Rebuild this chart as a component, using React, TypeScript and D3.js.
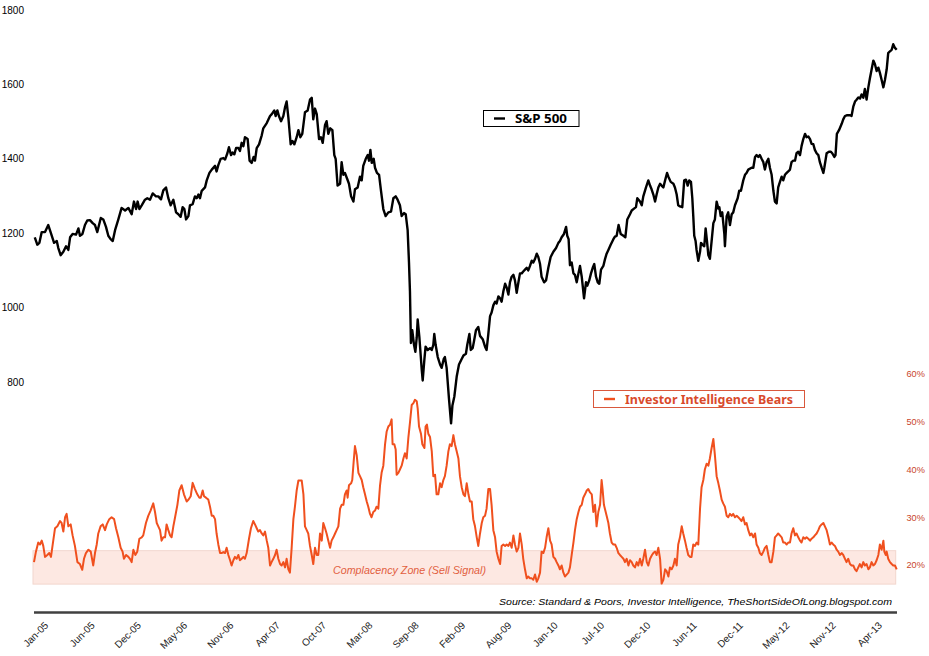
import React from "react";
import * as d3 from "d3";

// S&P 500 weekly closes: [week since Jan-05, index level]
const spx: [number, number][] = [
[0.4,1189],[1.7,1169],[2.8,1174],[4.0,1203],[5.7,1203],[7.4,1222],[8.6,1203],[10.4,1174],[11.8,1179],[12.6,1160],[13.8,1141],[15.2,1150],[16.6,1165],[17.8,1155],[18.7,1189],[20.0,1198],[21.8,1196],[23.0,1213],[23.8,1193],[25.1,1198],[26.4,1222],[27.6,1234],[29.0,1235],[30.4,1227],[31.6,1222],[32.8,1203],[34.6,1241],[35.9,1237],[37.3,1217],[38.5,1193],[39.7,1184],[40.8,1179],[42.0,1208],[43.7,1237],[45.4,1268],[47.2,1261],[48.9,1268],[50.6,1251],[51.8,1285],[52.9,1265],[53.7,1285],[54.6,1265],[55.8,1275],[57.5,1290],[58.7,1294],[60.1,1290],[61.5,1307],[63.2,1299],[64.4,1299],[65.8,1291],[67.0,1315],[68.4,1323],[69.6,1294],[70.8,1275],[72.2,1290],[73.6,1256],[74.8,1251],[76.0,1244],[77.0,1270],[77.9,1265],[78.8,1237],[80.0,1246],[80.8,1275],[82.2,1278],[83.4,1299],[84.3,1294],[85.2,1304],[86.0,1294],[86.9,1314],[88.6,1323],[89.5,1342],[90.9,1362],[92.1,1371],[93.8,1381],[94.6,1366],[95.5,1383],[96.7,1400],[98.1,1402],[99.0,1398],[100.2,1415],[101.0,1431],[102.1,1410],[102.9,1417],[103.8,1412],[104.7,1429],[105.9,1429],[106.7,1421],[107.6,1443],[108.5,1434],
[109.3,1458],[110.7,1453],[111.7,1395],[112.8,1389],[113.8,1405],[114.5,1395],[115.4,1429],[116.6,1439],[118.0,1463],[118.8,1482],[120.6,1496],[122.3,1515],[123.2,1520],[124.5,1530],[125.2,1515],[126.1,1530],[126.9,1515],[128.0,1501],[129.2,1515],[130.1,1539],[130.9,1554],[131.8,1511],[133.0,1439],[133.9,1448],[134.9,1439],[136.1,1458],[137.0,1477],[138.0,1458],[139.0,1467],[140.4,1525],[141.8,1530],[143.0,1559],[143.9,1564],[144.7,1506],[145.6,1535],[146.5,1520],[147.7,1453],[148.7,1458],[149.6,1443],[150.8,1491],[151.6,1501],[152.5,1467],[153.5,1482],[154.6,1477],[155.6,1410],[156.3,1400],[157.3,1328],[158.6,1333],[159.4,1391],[160.3,1357],[161.1,1362],[162.2,1347],[163.2,1333],[164.3,1299],[165.5,1285],[166.3,1318],[167.7,1323],[168.9,1352],[169.8,1342],[170.6,1381],[171.9,1400],[172.9,1410],[173.6,1395],[174.3,1424],[175.0,1389],[176.0,1400],[176.7,1376],[177.7,1362],[178.8,1357],[179.8,1314],[181.0,1265],[182.2,1246],[183.6,1256],[185.0,1258],[186.2,1294],[187.4,1299],[188.4,1290],[189.6,1275],[190.5,1246],[191.7,1254],[192.6,1251],[193.6,1208],[194.3,1121],[194.8,1044],[195.3,905],[196.0,939],[196.9,900],[197.6,881],[198.3,919],[198.8,968],[199.7,919],[200.9,833],[201.4,804],[202.3,862],[202.9,895],[204.0,886],[205.2,891],[206.1,886],[206.9,900],[207.4,929],[208.1,900],[209.2,867],[210.4,847],[211.2,838],[212.3,862],[212.9,867],[213.8,838],[215.0,756],[216.1,689],[216.8,737],[217.8,761],[219.0,814],[220.2,847],
[221.6,862],[222.5,871],[223.8,876],[224.5,900],[225.6,929],[226.3,886],[227.3,891],[228.0,910],[229.0,939],[230.2,948],[231.1,924],[232.5,915],[233.7,895],[234.5,886],[235.4,929],[236.3,977],[237.1,987],[238.0,1006],[238.9,1016],[239.7,1011],[240.6,1030],[241.5,1025],[242.3,1016],[243.2,1044],[244.1,1064],[244.9,1054],[245.8,1035],[246.6,1068],[247.5,1083],[248.4,1088],[249.2,1073],[250.1,1040],[251.0,1068],[251.8,1092],[252.7,1092],[253.5,1097],[254.4,1102],[255.3,1107],[256.1,1100],[257.0,1112],[257.9,1126],[258.7,1121],[259.6,1131],[260.5,1145],[261.3,1136],[262.2,1117],[263.0,1083],[264.3,1068],[265.3,1073],[266.5,1107],[267.7,1136],[269.1,1150],[270.5,1160],[271.7,1174],[272.5,1179],[273.4,1189],[274.6,1198],[275.7,1217],[276.3,1193],[277.0,1184],[277.7,1114],[278.6,1121],[279.5,1092],[280.3,1088],[281.2,1068],[282.1,1092],[282.9,1112],[283.8,1083],[285.0,1025],[286.0,1068],[286.7,1059],[287.7,1073],[288.6,1092],[289.5,1107],[290.3,1117],[291.2,1083],[292.1,1068],[292.9,1064],[293.8,1102],[295.0,1112],[295.9,1131],[296.7,1145],[297.6,1155],[298.8,1169],[300.2,1184],[301.0,1191],[301.9,1193],[302.9,1222],[304.0,1198],[305.4,1193],[306.4,1189],[307.4,1237],[308.8,1251],[309.7,1261],[310.9,1266],[311.9,1270],[312.6,1294],[314.0,1285],[314.9,1275],[315.7,1299],[317.1,1323],[318.3,1342],[319.2,1328],[320.0,1318],[320.9,1304],[321.8,1285],[322.6,1304],[323.5,1323],[324.4,1333],[325.2,1328],[326.1,1323],[327.0,1342],[328.0,1362],[328.7,1352],[329.9,1338],[331.3,1333],[332.1,1323],
[333.0,1304],[333.8,1275],[334.7,1272],[335.9,1270],[336.9,1342],[337.8,1344],[338.7,1328],[339.5,1342],[340.4,1338],[341.1,1294],[341.6,1246],[342.1,1193],[342.8,1179],[343.3,1155],[344.2,1126],[345.1,1150],[345.6,1174],[346.4,1169],[347.3,1165],[348.0,1213],[348.7,1179],[349.4,1141],[350.2,1131],[351.1,1179],[352.0,1227],[352.8,1237],[353.7,1285],[354.6,1266],[355.1,1270],[355.8,1246],[356.6,1256],[357.7,1198],[358.0,1165],[358.9,1246],[359.7,1256],[360.6,1222],[361.5,1251],[362.3,1256],[363.2,1275],[364.6,1294],[365.4,1314],[366.3,1314],[367.5,1342],[368.4,1357],[369.2,1362],[370.1,1371],[371.8,1376],[372.7,1376],[373.6,1405],[374.4,1410],[375.3,1405],[376.1,1410],[377.0,1400],[377.9,1391],[378.7,1371],[379.6,1391],[380.5,1400],[381.3,1376],[382.2,1357],[383.1,1314],[383.9,1285],[384.8,1280],[385.6,1323],[386.5,1338],[387.4,1352],[388.2,1342],[389.1,1357],[390.0,1362],[390.8,1366],[391.7,1371],[392.5,1391],[393.4,1395],[394.3,1395],[395.1,1415],[396.0,1419],[396.9,1410],[397.7,1434],[398.6,1453],[399.5,1467],[400.3,1458],[401.2,1460],[402.1,1453],[402.9,1440],[403.8,1439],[404.6,1424],[405.5,1415],[406.4,1410],[407.2,1391],[408.1,1376],[409.0,1362],[409.5,1376],[410.7,1415],[411.9,1419],[412.9,1419],[413.6,1415],[414.7,1405],[415.3,1410],[416.0,1467],[417.1,1477],[418.5,1494],[419.3,1506],[420.2,1515],[421.1,1517],[422.8,1517],[423.6,1515],[424.5,1540],[425.4,1554],[426.2,1559],[427.1,1565],[428.0,1562],[428.8,1573],[429.7,1564],[430.5,1588],[431.4,1559],[432.3,1592],[433.1,1616],[434.0,1640],[434.9,1664],[435.7,1655],[436.6,1636],[437.5,1645],[438.3,1631],[439.2,1612],[440.1,1592],[440.9,1612],[441.8,1640],[442.6,1684],[443.5,1689],[444.4,1693],[445.2,1708],[446.1,1698],[447.0,1693]
];

// Investor Intelligence bears (%): [week since Jan-05, percent]
const bears: [number, number][] = [
[0.0,20.6],[1.0,22.8],[2.2,24.7],[3.1,24.3],[4.0,25.1],[4.8,24.0],[5.7,21.7],[6.9,22.1],[7.9,22.5],[8.8,21.7],[9.7,24.3],[10.9,27.7],[12.1,28.1],[13.5,29.2],[14.3,28.8],[15.2,27.0],[16.1,30.0],[16.9,30.7],[17.8,28.1],[19.0,28.5],[20.0,26.2],[21.2,24.0],[22.5,20.6],[23.8,20.2],[25.0,19.0],[25.9,21.3],[26.9,22.5],[28.2,23.2],[29.4,22.8],[30.7,19.9],[31.6,22.5],[32.5,24.3],[33.3,26.6],[34.5,28.1],[35.6,28.5],[36.8,27.3],[37.7,28.5],[39.0,29.6],[40.2,30.0],[41.5,29.6],[42.5,27.7],[43.7,25.8],[44.9,23.6],[45.9,22.8],[46.6,21.3],[47.7,22.1],[48.9,21.7],[49.7,21.3],[50.6,20.6],[51.5,23.2],[52.5,22.1],[53.5,22.8],[54.6,25.5],[55.8,25.8],[56.6,26.2],[58.0,28.8],[59.2,30.3],[60.4,31.4],[61.8,32.9],[62.7,31.1],[63.6,28.8],[64.4,28.1],[65.3,27.3],[66.1,25.1],[67.0,25.8],[67.9,25.8],[68.7,28.5],[69.6,27.3],[70.5,26.2],[71.3,25.8],[72.2,28.1],[73.1,30.0],[74.3,32.6],[75.3,35.6],[76.5,36.7],[77.7,34.8],[79.1,33.3],[80.1,33.7],[81.2,34.4],[82.2,37.2],[83.4,35.9],[84.6,34.8],[85.7,34.1],[86.4,34.1],[87.4,35.6],[88.1,34.4],[89.1,34.1],[90.3,33.7],[91.2,32.2],[92.1,30.3],[92.9,30.3],[93.8,29.6],[94.6,26.6],[95.5,24.3],[96.4,22.5],[97.2,22.5],[98.1,22.7],[99.0,22.5],[99.8,23.6],[100.7,22.1],[101.6,21.0],[102.4,19.9],[103.3,21.0],[104.1,21.7],[105.0,21.3],[105.9,22.1],[106.7,21.0],[107.6,21.3],[108.5,21.7],
[109.3,21.3],[110.2,22.5],[111.4,25.5],[112.4,27.7],[113.6,29.2],[114.5,28.5],[115.4,27.7],[116.2,27.0],[117.1,27.3],[118.0,26.6],[118.8,26.2],[119.7,27.0],[120.6,25.1],[121.4,23.6],[122.3,19.9],[123.1,20.6],[124.0,21.3],[124.9,22.1],[125.7,23.2],[126.6,21.3],[127.5,20.2],[128.3,19.9],[129.2,20.6],[130.1,19.5],[130.9,21.3],[131.8,19.1],[132.6,18.4],[133.5,23.6],[134.4,29.6],[135.2,32.2],[136.1,35.6],[137.0,37.7],[138.7,37.7],[139.6,34.8],[140.4,28.1],[141.3,27.3],[142.1,26.6],[143.0,24.0],[143.9,22.1],[144.7,20.2],[145.6,23.6],[146.5,22.1],[147.3,22.1],[148.2,26.6],[149.1,25.1],[149.9,28.8],[150.8,27.7],[151.6,26.6],[152.5,25.1],[153.4,23.6],[154.2,25.1],[155.1,25.8],[156.0,26.6],[156.8,27.3],[157.7,28.1],[158.6,31.8],[159.4,32.6],[160.3,32.6],[161.1,34.8],[162.0,35.6],[162.5,34.1],[163.2,36.7],[164.3,37.1],[164.9,37.8],[165.6,41.5],[166.3,44.9],[167.2,43.0],[168.1,39.3],[168.9,38.6],[169.8,37.8],[170.6,36.3],[171.5,34.8],[172.4,33.3],[173.2,32.2],[174.1,30.7],[174.9,30.0],[175.8,31.1],[176.7,31.4],[177.5,32.2],[178.4,31.8],[179.3,36.7],[180.1,39.3],[181.0,40.8],[181.9,45.3],[182.7,47.9],[183.6,49.0],[184.5,49.4],[185.3,50.5],[185.8,45.3],[186.7,45.3],[187.4,44.2],[187.9,38.9],[188.8,39.3],[189.6,40.0],[190.5,40.8],[191.4,42.3],[192.2,43.4],[193.1,42.3],[194.0,46.8],[194.8,49.8],[195.7,53.5],[196.6,53.9],[197.4,54.6],[198.3,54.3],[198.8,52.8],[199.5,49.0],[200.5,47.5],[201.2,45.3],[202.3,44.5],[202.9,49.0],[203.6,49.4],[204.3,47.5],[205.2,46.8],[206.1,43.8],[206.9,38.6],[207.8,38.9],[208.6,34.8],[209.5,34.8],[210.4,37.1],[211.2,36.3],[212.1,37.8],[212.9,38.6],[213.8,40.8],[214.7,43.8],[215.5,45.3],[216.4,44.9],[217.3,47.2],[218.1,45.3],[219.0,43.8],[219.9,42.3],
[220.7,38.6],[221.6,36.3],[222.5,34.8],[223.3,34.4],[224.2,37.1],[225.1,34.8],[225.9,33.3],[226.8,33.3],[227.6,29.6],[228.5,28.1],[229.4,25.8],[230.2,24.0],[231.1,26.6],[232.0,28.8],[232.8,30.0],[233.7,30.3],[234.5,31.8],[235.4,35.9],[236.3,35.9],[237.1,32.6],[238.0,27.3],[238.9,25.8],[239.7,22.8],[240.6,21.3],[241.5,20.2],[242.3,24.0],[243.2,24.3],[244.1,24.0],[244.9,24.3],[245.8,24.0],[246.6,24.7],[247.5,23.6],[248.4,26.2],[249.2,24.3],[250.1,22.8],[251.0,23.6],[251.8,26.6],[252.7,24.3],[253.5,21.3],[254.4,19.1],[255.3,17.2],[256.1,17.6],[257.0,17.2],[257.9,17.2],[258.7,16.9],[259.6,18.0],[260.5,16.5],[261.3,17.2],[262.2,18.4],[263.0,22.8],[263.9,22.5],[264.8,23.6],[265.6,25.8],[266.5,27.7],[267.4,25.1],[268.2,24.3],[269.1,21.7],[270.0,21.3],[270.8,20.6],[271.7,19.9],[272.5,19.1],[273.4,19.9],[274.3,18.4],[275.1,17.6],[276.0,18.0],[276.9,18.4],[277.7,19.5],[278.6,22.1],[279.5,24.7],[280.3,27.3],[281.2,29.6],[282.1,31.1],[282.9,32.2],[283.8,32.6],[284.6,34.1],[285.5,34.8],[286.4,35.6],[287.2,35.9],[288.1,35.2],[289.0,34.8],[289.8,31.1],[290.7,32.6],[291.5,28.1],[292.4,31.1],[293.3,32.6],[294.1,37.8],[294.6,35.9],[295.3,32.6],[296.7,30.3],[297.6,28.8],[298.4,26.6],[299.3,24.7],[300.2,24.3],[301.1,24.3],[301.9,23.6],[302.8,22.5],[303.6,22.1],[304.5,21.7],[305.4,21.3],[306.2,20.6],[307.1,21.3],[308.0,19.9],[308.8,21.0],[309.7,20.6],[310.5,19.9],[311.4,19.5],[312.3,20.6],[313.1,19.9],[314.0,21.3],[314.9,19.9],[315.7,21.3],[316.6,23.2],[317.5,20.6],[318.3,19.9],[319.2,21.3],[320.2,22.1],[320.9,22.5],[321.8,22.8],[322.6,22.1],[323.5,23.6],[324.4,21.3],[325.2,16.1],[326.1,16.9],[327.0,19.1],[327.8,18.7],[328.7,17.6],[329.5,19.5],[330.4,19.1],[331.3,19.9],[332.1,21.3],
[333.0,19.9],[333.8,24.3],[334.7,25.8],[335.6,28.1],[336.4,26.6],[337.3,25.1],[338.1,23.6],[339.0,22.1],[339.9,21.7],[340.7,21.7],[341.6,24.3],[342.5,24.0],[343.3,24.7],[344.2,24.3],[345.1,31.8],[345.9,36.3],[346.8,37.8],[347.6,40.0],[348.5,41.2],[349.4,40.8],[350.2,42.3],[351.1,44.5],[352.0,46.4],[352.8,43.0],[353.7,38.6],[354.6,37.1],[355.4,35.6],[356.3,33.7],[357.1,32.9],[358.0,32.2],[358.9,30.3],[359.7,30.0],[360.6,30.7],[361.5,30.3],[362.3,30.7],[363.2,30.0],[364.1,30.3],[364.9,30.0],[365.8,29.6],[366.6,29.2],[367.5,30.0],[368.4,28.5],[369.2,28.8],[370.1,27.3],[371.0,26.2],[371.8,26.6],[372.7,25.8],[373.6,26.6],[374.4,24.3],[375.3,23.6],[376.1,22.5],[377.0,22.1],[377.9,22.8],[378.7,23.6],[379.6,24.0],[380.5,22.1],[381.3,20.6],[382.2,20.6],[383.1,22.8],[383.9,25.8],[384.8,26.2],[385.6,26.6],[386.5,26.2],[387.4,25.8],[388.2,24.7],[389.1,24.7],[390.0,24.3],[390.8,24.7],[391.7,24.7],[392.5,26.6],[393.4,27.7],[394.3,26.2],[395.1,26.6],[396.0,25.8],[396.9,25.1],[397.7,24.7],[398.6,25.8],[399.5,25.5],[400.3,25.8],[401.2,25.5],[402.1,25.1],[402.9,25.5],[403.8,25.8],[404.6,26.2],[405.5,26.6],[406.4,27.3],[407.2,28.1],[408.1,28.5],[409.0,28.8],[409.8,28.1],[410.7,27.3],[411.6,25.8],[412.4,24.3],[413.3,24.7],[414.1,24.3],[415.0,24.0],[415.9,23.2],[416.7,22.8],[417.6,22.1],[418.5,22.5],[419.3,22.1],[420.2,21.3],[421.0,20.6],[421.9,21.3],[422.8,20.2],[423.6,19.9],[424.5,19.9],[425.4,19.1],[426.2,18.7],[427.1,19.5],[427.9,20.2],[428.8,19.5],[429.7,20.6],[430.5,19.9],[431.4,20.2],[432.3,19.1],[433.1,19.5],[434.0,20.6],[434.9,19.9],[435.7,20.2],[436.6,21.0],[437.5,22.1],[438.3,24.3],[439.2,23.2],[440.1,25.1],[440.6,22.8],[441.3,22.1],[441.8,22.8],[442.6,21.3],[443.5,20.6],[444.4,20.2],[445.2,19.9],[446.1,19.9],[447.0,19.1]
];

const xLabels = ["Jan-05","Jun-05","Dec-05","May-06","Nov-06","Apr-07","Oct-07","Mar-08","Sep-08","Feb-09","Aug-09","Jan-10","Jul-10","Dec-10","Jun-11","Dec-11","May-12","Nov-12","Apr-13"];
const labelStepWeeks = 24;
const spxTicks = [800, 1000, 1200, 1400, 1600, 1800];
const bearTicks = [20, 30, 40, 50, 60];
const zoneRange = [16, 23];

const BEAR = "#f0501e";
const BEAR_TXT = "#c9452c";

export default function App() {
  const x = d3.scaleLinear().domain([0, 447]).range([34, 896.7]);
  const yL = d3.scaleLinear().domain([800, 1800]).range([382, 10]);
  const yR = d3.scaleLinear().domain([20, 60]).range([565, 374]);

  const spxLine = d3.line<[number, number]>().x(d => x(d[0])).y(d => yL(d[1]));
  const bearLine = d3.line<[number, number]>().x(d => x(d[0])).y(d => yR(d[1]));

  const sans = "'Liberation Sans', Arial, sans-serif";
  const legendFont = "'Noto Sans', 'Open Sans', sans-serif";

  return (
    <svg width={929} height={656} style={{ position: "absolute", left: 0, top: 0, background: "#fff" }}>
      <rect x={0} y={0} width={929} height={656} fill="#fff" />
      {/* complacency zone */}
      <rect x={33} y={yR(zoneRange[1])} width={862.7} height={yR(zoneRange[0]) - yR(zoneRange[1])}
        fill="#fde8e2" stroke="#f2d6ce" strokeWidth={1} />
      <text x={333} y={574} fontFamily={sans} fontStyle="italic" fontSize={10} fill="#e2603f"
        textLength={153} lengthAdjust="spacingAndGlyphs">Complacency Zone (Sell Signal)</text>

      {/* left axis labels */}
      {spxTicks.map(t => (
        <text key={t} x={24} y={yL(t) + 3.6} textAnchor="end" fontFamily={sans} fontSize={10} fill="#000">{t}</text>
      ))}
      {/* right axis labels */}
      {bearTicks.map(t => (
        <text key={t} x={906.5} y={yR(t) + 3.3} fontFamily={sans} fontSize={9.2} fill={BEAR_TXT}>{t}%</text>
      ))}

      {/* series */}
      <path d={bearLine(bears) || ""} fill="none" stroke={BEAR} strokeWidth={2} strokeLinejoin="round" />
      <path d={spxLine(spx) || ""} fill="none" stroke="#000" strokeWidth={2.4} strokeLinejoin="round" />

      {/* x axis */}
      <line x1={34} x2={897} y1={612.5} y2={612.5} stroke="#404040" strokeWidth={2.4} />
      {xLabels.map((l, i) => {
        const px = x(i * labelStepWeeks) + 15;
        return (
          <text key={l} transform={`translate(${px},626) rotate(-45)`} textAnchor="end"
            fontFamily={sans} fontSize={10} fill="#222">{l}</text>
        );
      })}

      {/* source */}
      <text x={499} y={605} fontFamily={sans} fontStyle="italic" fontSize={9.8} fill="#000"
        textLength={393} lengthAdjust="spacingAndGlyphs">Source: Standard &amp; Poors, Investor Intelligence, TheShortSideOfLong.blogspot.com</text>

      {/* S&P legend */}
      <rect x={483.5} y={110.5} width={95.5} height={16} fill="#fff" stroke="#000" strokeWidth={1} />
      <line x1={494} x2={505} y1={118.5} y2={118.5} stroke="#000" strokeWidth={2.4} />
      <text x={515} y={123} fontFamily={legendFont} fontWeight="bold" fontSize={12} fill="#000"
        textLength={52} lengthAdjust="spacingAndGlyphs">S&amp;P 500</text>

      {/* Bears legend */}
      <rect x={593.5} y={390.5} width={211} height={17} fill="#fff" stroke="#d9583c" strokeWidth={1} />
      <line x1={604} x2={615} y1={399} y2={399} stroke={BEAR} strokeWidth={2.4} />
      <text x={625} y={403.5} fontFamily={legendFont} fontWeight="bold" fontSize={12} fill="#d94a2c"
        textLength={168} lengthAdjust="spacingAndGlyphs">Investor Intelligence Bears</text>
    </svg>
  );
}
